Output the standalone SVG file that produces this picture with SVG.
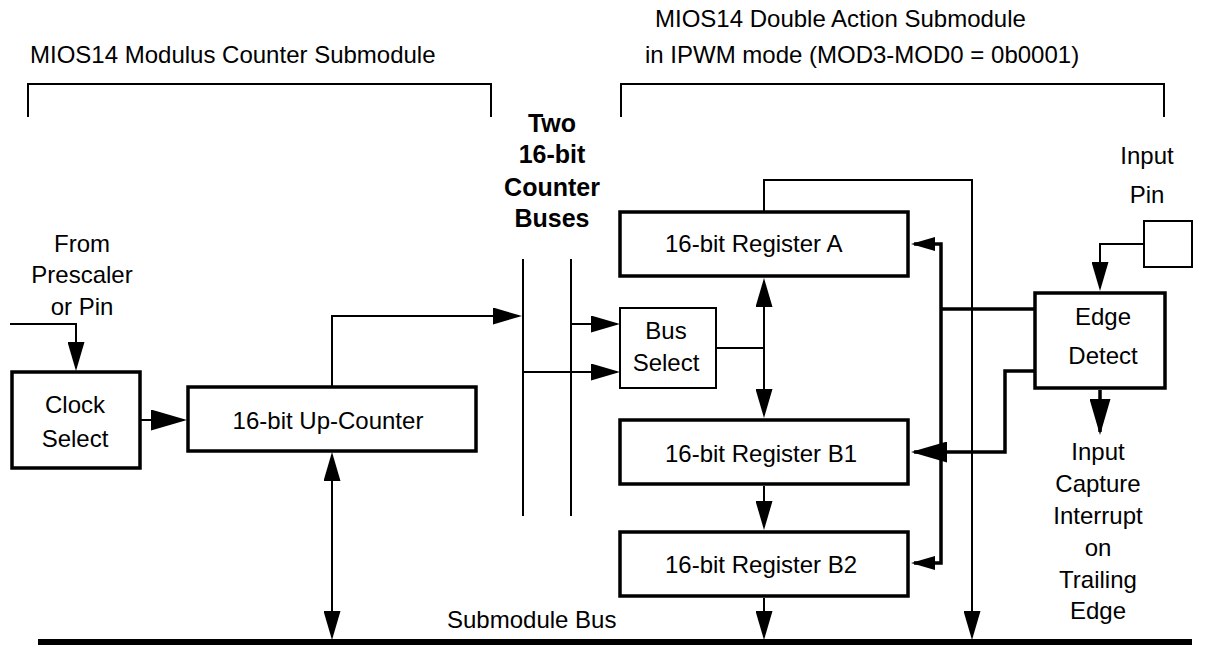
<svg xmlns="http://www.w3.org/2000/svg" width="1206" height="645" viewBox="0 0 1206 645">
<style>
  text { font-family: "Liberation Sans", Arial, sans-serif; font-size: 24px; fill: #000; }
  .c { text-anchor: middle; }
  .b { font-weight: bold; font-size: 25px; }
  .box { fill: #fff; stroke: #000; stroke-width: 3.5; }
  .thin { fill: #fff; stroke: #000; stroke-width: 2; }
  .ln { fill: none; stroke: #000; stroke-width: 2; }
  .tk { fill: none; stroke: #000; stroke-width: 3.5; }
  .bus { fill: none; stroke: #000; stroke-width: 6; }
</style>
<defs>
  <marker id="am" markerUnits="userSpaceOnUse" markerWidth="29" markerHeight="17" refX="26" refY="8.5" orient="auto-start-reverse">
    <path d="M0,0 L29,8.5 L0,17 Z" fill="#000"/>
  </marker>
  <marker id="ab" markerUnits="userSpaceOnUse" markerWidth="36" markerHeight="21" refX="33" refY="10.5" orient="auto-start-reverse">
    <path d="M0,0 L36,10.5 L0,21 Z" fill="#000"/>
  </marker>
  <marker id="as" markerUnits="userSpaceOnUse" markerWidth="24" markerHeight="14" refX="21" refY="7" orient="auto-start-reverse">
    <path d="M0,0 L24,7 L0,14 Z" fill="#000"/>
  </marker>
</defs>

<g id="titles">
  <text x="30" y="63">MIOS14 Modulus Counter Submodule</text>
  <text x="655" y="27">MIOS14 Double Action Submodule</text>
  <text x="645" y="63">in IPWM mode (MOD3-MOD0 = 0b0001)</text>
  <path class="ln" d="M28,117 V84 H491 V117"/>
  <path class="ln" d="M621,117 V84 H1164 V117"/>
</g>

<g id="counter-buses-label">
  <text class="c b" x="552" y="132">Two</text>
  <text class="c b" x="552" y="163">16-bit</text>
  <text class="c b" x="552" y="196">Counter</text>
  <text class="c b" x="552" y="227">Buses</text>
</g>

<g id="connectors">
  <path class="ln" d="M10,324 H76 V368" marker-end="url(#am)"/>
  <path class="ln" d="M140,420 H184" marker-end="url(#ab)"/>
  <path class="ln" d="M332,387 V316 H519" marker-end="url(#am)"/>
  <path class="ln" d="M332,455 V637" marker-start="url(#am)" marker-end="url(#am)"/>
  <path class="ln" d="M523,259 V516"/>
  <path class="ln" d="M571,259 V516"/>
  <path class="ln" d="M571,324 H617" marker-end="url(#am)"/>
  <path class="ln" d="M523,372 H617" marker-end="url(#am)"/>
  <path class="ln" d="M716,348 H764"/>
  <path class="ln" d="M764,281 V415" marker-start="url(#am)" marker-end="url(#am)"/>
  <path class="ln" d="M764,486 V527" marker-end="url(#am)"/>
  <path class="ln" d="M764,598 V637" marker-end="url(#am)"/>
  <path class="ln" d="M764,211 V180 H972 V637" marker-end="url(#am)"/>
  <path class="tk" d="M914,244 H941 V563 H914" marker-start="url(#as)" marker-end="url(#as)"/>
  <path class="tk" d="M1035,309 H941"/>
  <path class="tk" d="M1035,371 H1005 V452 H914" marker-end="url(#ab)"/>
  <path class="ln" d="M1144,244 H1100 V288" marker-end="url(#am)"/>
  <path class="tk" d="M1100,390 V432" marker-end="url(#ab)"/>
  <path class="bus" d="M38,642 H1192"/>
</g>

<g id="from-prescaler">
  <text class="c" x="82" y="252">From</text>
  <text class="c" x="82" y="283">Prescaler</text>
  <text class="c" x="82" y="315">or Pin</text>
</g>

<g id="clock-select">
  <rect class="box" x="12" y="372" width="128" height="96"/>
  <text class="c" x="75" y="413">Clock</text>
  <text class="c" x="75" y="447">Select</text>
</g>

<g id="up-counter">
  <rect class="box" x="188" y="387" width="288" height="64"/>
  <text class="c" x="328" y="429">16-bit Up-Counter</text>
</g>

<g id="bus-select">
  <rect class="thin" x="620" y="308" width="96" height="80"/>
  <text class="c" x="666" y="339">Bus</text>
  <text class="c" x="666" y="371">Select</text>
</g>

<g id="register-a">
  <rect class="box" x="620" y="212" width="288" height="64"/>
  <text x="665" y="252">16-bit Register A</text>
</g>

<g id="register-b1">
  <rect class="box" x="620" y="420" width="288" height="64"/>
  <text x="665" y="462">16-bit Register B1</text>
</g>

<g id="register-b2">
  <rect class="box" x="620" y="532" width="288" height="64"/>
  <text x="665" y="573">16-bit Register B2</text>
</g>

<g id="edge-detect">
  <rect class="box" x="1035" y="293" width="130" height="95"/>
  <text class="c" x="1103" y="325">Edge</text>
  <text class="c" x="1103" y="364">Detect</text>
</g>

<g id="input-pin">
  <text class="c" x="1147" y="164">Input</text>
  <text class="c" x="1147" y="203">Pin</text>
  <rect class="thin" x="1144" y="221" width="48" height="46"/>
</g>

<g id="interrupt-label">
  <text class="c" x="1098" y="460">Input</text>
  <text class="c" x="1098" y="492">Capture</text>
  <text class="c" x="1098" y="524">Interrupt</text>
  <text class="c" x="1098" y="556">on</text>
  <text class="c" x="1098" y="588">Trailing</text>
  <text class="c" x="1098" y="619">Edge</text>
</g>

<g id="submodule-bus-label">
  <text x="447" y="628">Submodule Bus</text>
</g>
</svg>
